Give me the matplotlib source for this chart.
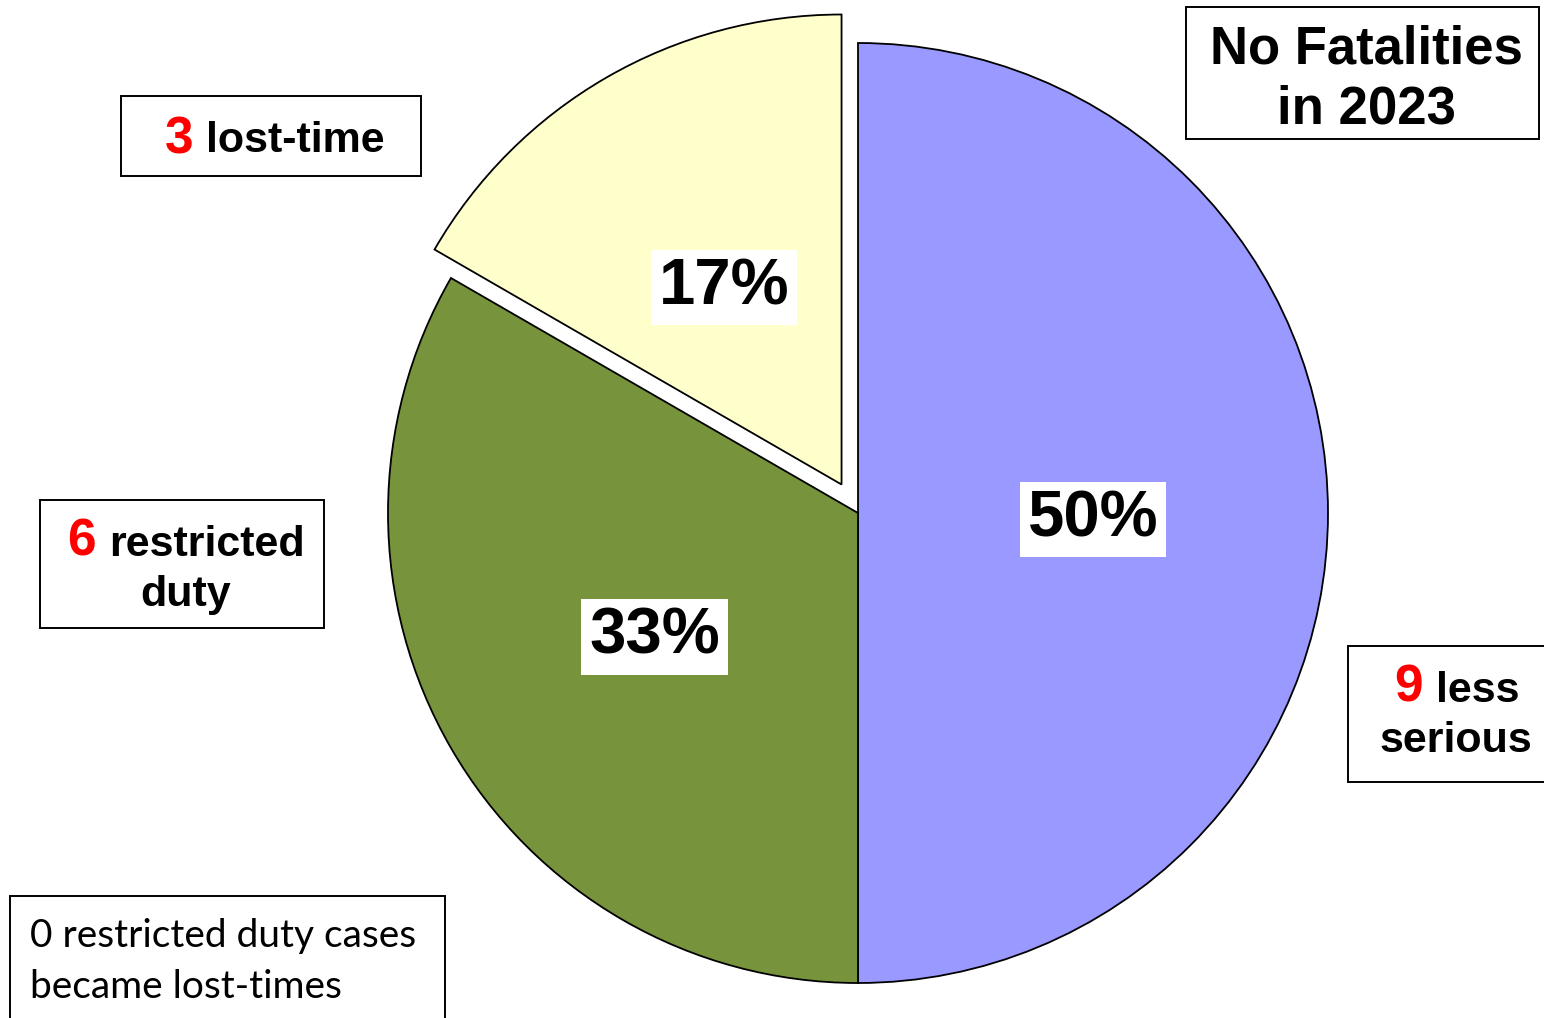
import matplotlib.pyplot as plt
from matplotlib.patches import Rectangle

# injury categories, clockwise from 12 o'clock
categories = ["less serious", "restricted duty", "lost-time"]
counts = [9, 6, 3]
colors = ["#9999FF", "#77933C", "#FFFFCC"]
explode = [0, 0, 0.07]

W, H = 1544, 1018
CX, CY, R = 858, 513, 470  # pie centre / radius in pixels

fig = plt.figure(figsize=(W / 100, H / 100), dpi=100)
ax = fig.add_axes([0, 0, 1, 1])

wedges, texts, autotexts = ax.pie(
    counts, colors=colors, explode=explode, startangle=90, counterclock=False,
    autopct='%1.0f%%', pctdistance=0.5,
    wedgeprops=dict(edgecolor='black', linewidth=1.3),
    textprops=dict(fontsize=47, fontweight='bold', family='Liberation Sans'),
)
for t in autotexts:
    t.set_va('center_baseline')
    t.set_bbox(dict(facecolor='white', edgecolor='none', boxstyle='square,pad=0.12'))

ax.set_xlim(-CX / R, (W - CX) / R)
ax.set_ylim(-(H - CY) / R, CY / R)
ax.set_aspect('auto')
ax.axis('off')


def px(x, y):
    return x / W, 1 - y / H


def box(x0, y0, x1, y1):
    fig.patches.append(Rectangle(px(x0, y1), (x1 - x0) / W, (y1 - y0) / H,
                                 transform=fig.transFigure, facecolor='white',
                                 edgecolor='black', linewidth=1.4))


def txt(x, y, s, color='black', size=31, ha='left', weight='bold', family='Liberation Sans'):
    fig.text(*px(x, y), s, color=color, fontsize=size, ha=ha, va='baseline',
             fontweight=weight, family=family)


# lost-time label
box(121, 96, 421, 176)
txt(165, 153, str(counts[2]), color='red', size=37)
txt(206, 152, "lost-time")

# restricted duty label
box(40, 500, 324, 628)
txt(67, 556, str(counts[1]), color='red', size=37)
txt(109, 556, "restricted")
txt(186, 606, "duty", ha='center')

# less serious label
box(1348, 646, 1550, 782)
txt(1394, 702, str(counts[0]), color='red', size=37)
txt(1436, 702, "less")
txt(1456, 752, "serious", ha='center')

# fatalities box
box(1186, 7, 1539, 139)
txt(1366, 64, "No Fatalities", size=38, ha='center')
txt(1366, 123, "in 2023", size=38, ha='center')

# note box
box(10, 896, 445, 1030)
txt(30, 947, "0 restricted duty cases", size=28, weight='normal', family='Lato')
txt(30, 998, "became lost-times", size=28, weight='normal', family='Lato')

fig.savefig("out.png", dpi=100)
